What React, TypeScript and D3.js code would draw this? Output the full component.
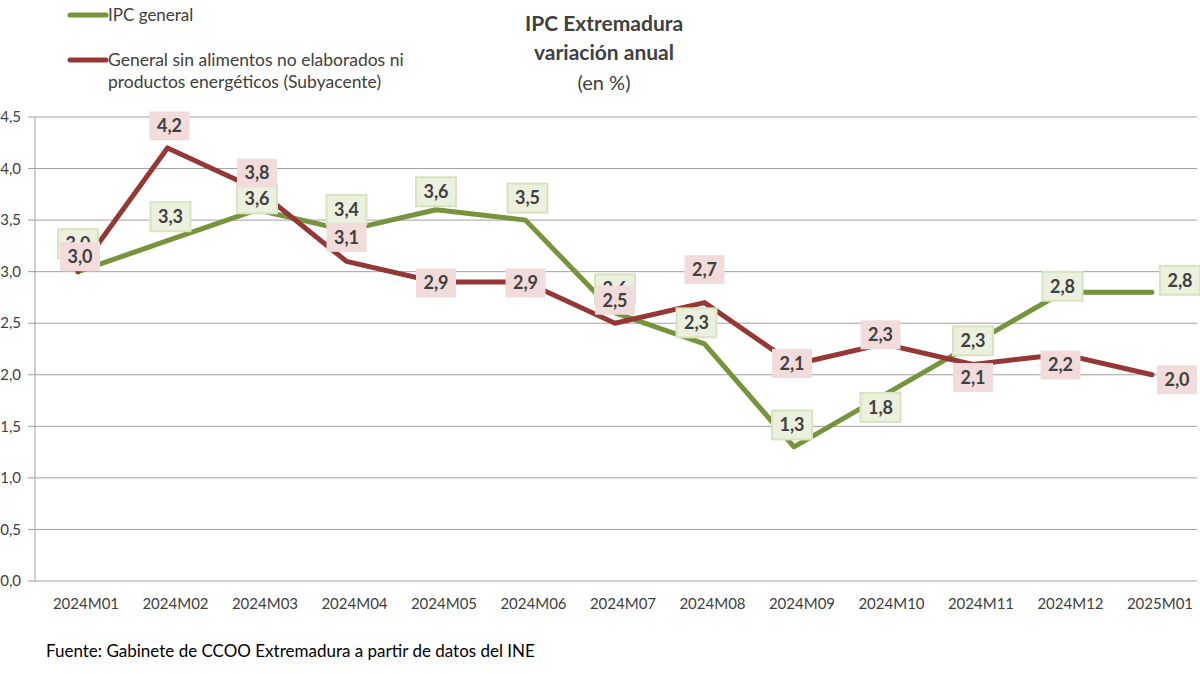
import React from "react";
import * as d3 from "d3";

const categories = ["2024M01","2024M02","2024M03","2024M04","2024M05","2024M06","2024M07","2024M08","2024M09","2024M10","2024M11","2024M12","2025M01"];
const ipcGeneral = [3.0, 3.3, 3.6, 3.4, 3.6, 3.5, 2.6, 2.3, 1.3, 1.8, 2.3, 2.8, 2.8];
const subyacente = [3.0, 4.2, 3.8, 3.1, 2.9, 2.9, 2.5, 2.7, 2.1, 2.3, 2.1, 2.2, 2.0];
const yTicks = [0, 0.5, 1.0, 1.5, 2.0, 2.5, 3.0, 3.5, 4.0, 4.5];

// label placement offsets (layout only), in px relative to point
const greenLabelDx = [0, 3, 0, 0, 0, 2, 0, -8, -2, -3, 0, 0, 28];
const greenLabelDy = [-28, -24, -11, -21, -18, -22, -24, -21, -22, 12, -3, -6, -12];
const redLabelDx = [2, 2, 0, 0, 0, 0, 0, 0, -2, -3, 0, -2, 25];
const redLabelDy = [-15, -22, -16, -24, 1, 1, -23, -33, -1, -9, 13, 11, 5];

const W = 1200, H = 674;
const FONT = "Lato, 'Open Sans', sans-serif";
const TXT = "#404040";
const GREEN = "#77933c";
const RED = "#953735";

export default function App() {
  const x = d3.scalePoint<string>().domain(categories).range([78, 1152]);
  const y = d3.scaleLinear().domain([0, 4.5]).range([581, 117]);
  const line = d3.line<number>().x((_, i) => x(categories[i])!).y(d => y(d));
  const fmt = (v: number) => v.toFixed(1).replace(".", ",");

  const labelBox = (v: number, i: number, dx: number, dy: number, fill: string, stroke: string | null, key: string) => {
    const cx = x(categories[i])! + dx;
    const cy = y(v) + dy;
    return (
      <g key={key}>
        <rect x={cx - 20} y={cy - 14.5} width={40} height={29} fill={fill} stroke={stroke ?? "none"} strokeWidth={stroke ? 2 : 0} />
        <text x={cx} y={cy} dy="0.35em" textAnchor="middle" fontFamily={FONT} fontWeight="bold" fontSize={18} fill={TXT}>{fmt(v)}</text>
      </g>
    );
  };

  return (
    <svg width={W} height={H} style={{ position: "absolute", left: 0, top: 0, background: "#fff" }}>
      <rect width={W} height={H} fill="#fff" />
      {/* title */}
      <text x={604} y={31} textAnchor="middle" fontFamily={FONT} fontWeight="bold" fontSize={21} fill={TXT}>IPC Extremadura</text>
      <text x={604} y={60} textAnchor="middle" fontFamily={FONT} fontWeight="bold" fontSize={21} fill={TXT}>variación anual</text>
      <text x={604} y={90} textAnchor="middle" fontFamily={FONT} fontSize={20} fill={TXT}>(en %)</text>
      {/* legend */}
      <line x1={70} x2={106} y1={15} y2={15} stroke={GREEN} strokeWidth={5} strokeLinecap="round" />
      <text x={108} y={15} dy="0.35em" fontFamily={FONT} fontSize={17} fill={TXT}>IPC general</text>
      <line x1={70} x2={106} y1={60} y2={60} stroke={RED} strokeWidth={5} strokeLinecap="round" />
      <text x={108} y={60} dy="0.35em" fontFamily={FONT} fontSize={17.5} fill={TXT}>General sin alimentos no elaborados ni</text>
      <text x={108} y={82} dy="0.35em" fontFamily={FONT} fontSize={17.5} fill={TXT}>productos energéticos (Subyacente)</text>
      {/* grid + y axis */}
      {yTicks.map(t => (
        <g key={t}>
          <line x1={28} x2={1197} y1={y(t)} y2={y(t)} stroke="#a0a0a0" strokeWidth={1} />
          <text x={21} y={y(t)} dy="0.35em" textAnchor="end" fontFamily={FONT} fontSize={15} fill={TXT}>{fmt(t)}</text>
        </g>
      ))}
      <line x1={35} x2={35} y1={y(4.5)} y2={y(0)} stroke="#a0a0a0" strokeWidth={1} />
      {/* x labels */}
      {categories.map(c => (
        <text key={c} x={x(c)! + 8} y={604} dy="0.35em" textAnchor="middle" fontFamily={FONT} fontSize={15} fill={TXT}>{c}</text>
      ))}
      {/* lines */}
      <path d={line(ipcGeneral)!} fill="none" stroke={GREEN} strokeWidth={5} strokeLinejoin="round" strokeLinecap="round" />
      <path d={line(subyacente)!} fill="none" stroke={RED} strokeWidth={5} strokeLinejoin="round" strokeLinecap="round" />
      {/* labels */}
      {ipcGeneral.map((v, i) => labelBox(v, i, greenLabelDx[i], greenLabelDy[i], "#ebf1de", "#d7e4bd", "g" + i))}
      {subyacente.map((v, i) => labelBox(v, i, redLabelDx[i], redLabelDy[i], "#f2dcdb", null, "r" + i))}
      {/* source */}
      <text x={46} y={651} dy="0.35em" fontFamily={FONT} fontSize={17} fill="#000">Fuente: Gabinete de CCOO Extremadura a partir de datos del INE</text>
    </svg>
  );
}
